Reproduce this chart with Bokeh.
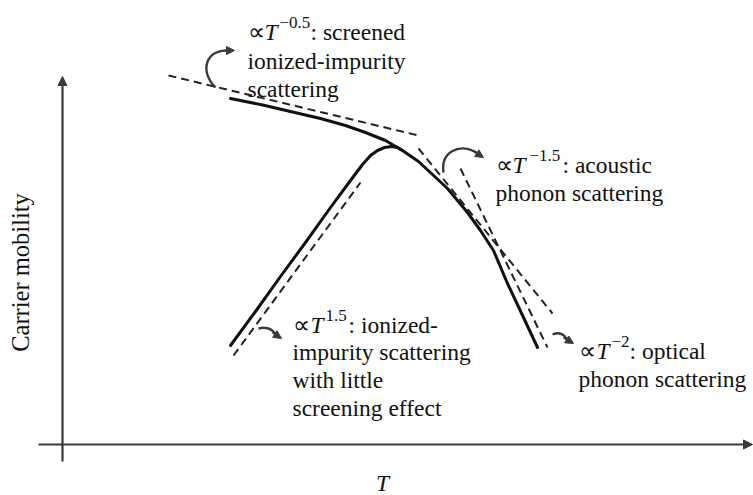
import math

from bokeh.embed import file_html
from bokeh.models import Arrow, Label, NormalHead, Range1d
from bokeh.plotting import figure
from bokeh.resources import INLINE

# Schematic mobility curves (T along x, mobility upward), in plot units
t_upper = [230, 260, 290, 320, 345, 365, 385, 402, 418, 432, 447, 467, 480, 493, 507, 523, 537]
mu_upper = [397, 391, 384, 377, 370, 363, 355, 345, 334, 321, 307, 283, 265, 245, 212, 178, 148]

t_lower = [230, 255, 280, 305, 330, 350, 362, 370, 377, 384, 391, 397, 402]
mu_lower = [150, 184, 219, 253, 288, 315, 331, 340, 345, 348, 349, 348, 345]

# Asymptotic power-law guides (dashed)
t_screened = [168, 418]
mu_screened = [420, 360]
t_unscreened = [233, 360]
mu_unscreened = [140, 313]
t_acoustic = [418, 552]
mu_acoustic = [347, 182]
t_optical = [460, 547]
mu_optical = [327, 148]

W, H = 753, 495
SERIF = "Liberation Serif"
FS = "23.5px"
SUP_FS = "17px"
INK = "#111111"
GREY = "#3a3a3a"

p = figure(width=W, height=H, x_range=Range1d(0, W), y_range=Range1d(0, H),
           output_backend="svg", toolbar_location=None,
           x_axis_location=None, y_axis_location=None,
           min_border=0, outline_line_color=None,
           background_fill_color="white", border_fill_color="white")
p.grid.visible = False


def yp(v):
    """Convert a top-down page offset to the plot's upward axis."""
    return H - v


# Coordinate axes with arrow heads
p.add_layout(Arrow(end=NormalHead(size=9, fill_color=GREY, line_color=GREY),
                   x_start=38, y_start=yp(444), x_end=752, y_end=yp(444),
                   line_width=2.2, line_color=GREY))
p.add_layout(Arrow(end=NormalHead(size=9, fill_color=GREY, line_color=GREY),
                   x_start=62, y_start=yp(461), x_end=62, y_end=yp(76),
                   line_width=2.2, line_color=GREY))

# Dashed asymptotes
for tx, my in [(t_screened, mu_screened), (t_unscreened, mu_unscreened),
               (t_acoustic, mu_acoustic), (t_optical, mu_optical)]:
    p.line(tx, my, line_color="#222222", line_width=2.0, line_dash="8 5")

# Mobility curves
p.line(t_upper, mu_upper, line_color=INK, line_width=3.0, line_join="round", line_cap="round")
p.line(t_lower, mu_lower, line_color=INK, line_width=3.0, line_join="round", line_cap="round")

# Curved pointer arrows
p.bezier(x0=[215], y0=[yp(87)], x1=[229], y1=[yp(50)],
         cx0=[198], cy0=[yp(70)], cx1=[206], cy1=[yp(48)],
         line_color=GREY, line_width=2.4)
p.bezier(x0=[443], y0=[yp(172)], x1=[476], y1=[yp(152)],
         cx0=[440], cy0=[yp(152)], cx1=[458], cy1=[yp(142)],
         line_color=GREY, line_width=2.4)
p.quadratic(x0=[258], y0=[yp(328)], x1=[276], y1=[yp(335)],
            cx=[270], cy=[yp(325)], line_color=GREY, line_width=2.4)
p.quadratic(x0=[552], y0=[yp(334)], x1=[567], y1=[yp(340)],
            cx=[562], cy=[yp(330)], line_color=GREY, line_width=2.4)

for xs, ys, xe, ye in [(224, 50, 234, 50), (472, 150, 483, 157),
                       (272, 332, 281, 338), (563, 337, 573, 343)]:
    p.add_layout(Arrow(end=NormalHead(size=8, fill_color=GREY, line_color=GREY),
                       x_start=xs, y_start=yp(ys), x_end=xe, y_end=yp(ye),
                       line_width=2, line_color=GREY))


def label(x, base, text, size=FS, style="normal", **kw):
    p.add_layout(Label(x=x, y=yp(base), text=text, text_font=SERIF,
                       text_font_size=size, text_font_style=style,
                       text_color=INK, text_baseline="alphabetic", **kw))


def formula(x0, base, sup, rest, dt, ds, dr):
    label(x0, base, "\u221d")
    label(x0 + dt, base, "T", style="italic")
    label(x0 + ds, base - 9, sup, size=SUP_FS)
    label(x0 + dr, base, rest)


# Screened ionized-impurity scattering
formula(247, 31, "\u22120.5", ": screened", 17, 32, 63)
label(247, 60, "ionized-impurity")
label(247, 88, "scattering")

# Acoustic phonon scattering
formula(495, 164, "\u22121.5", ": acoustic", 17, 34, 67)
label(495, 192, "phonon scattering")

# Unscreened ionized-impurity scattering
formula(292, 324, "1.5", ": ionized-", 18, 33, 56)
label(292, 351, "impurity scattering")
label(292, 379, "with little")
label(292, 407, "screening effect")

# Optical phonon scattering
formula(578, 350, "\u22122", ": optical", 18, 33, 51)
label(578, 378, "phonon scattering")

# Axis titles
p.add_layout(Label(x=382, y=yp(482), text="T", text_font=SERIF, text_font_size=FS,
                   text_font_style="italic", text_color=INK,
                   text_align="center", text_baseline="middle"))
p.add_layout(Label(x=20, y=yp(272), text="Carrier mobility", text_font=SERIF,
                   text_font_size="24.5px", text_color=INK, angle=math.pi / 2,
                   text_align="center", text_baseline="middle"))

open("out.html", "w").write(file_html(p, INLINE))
